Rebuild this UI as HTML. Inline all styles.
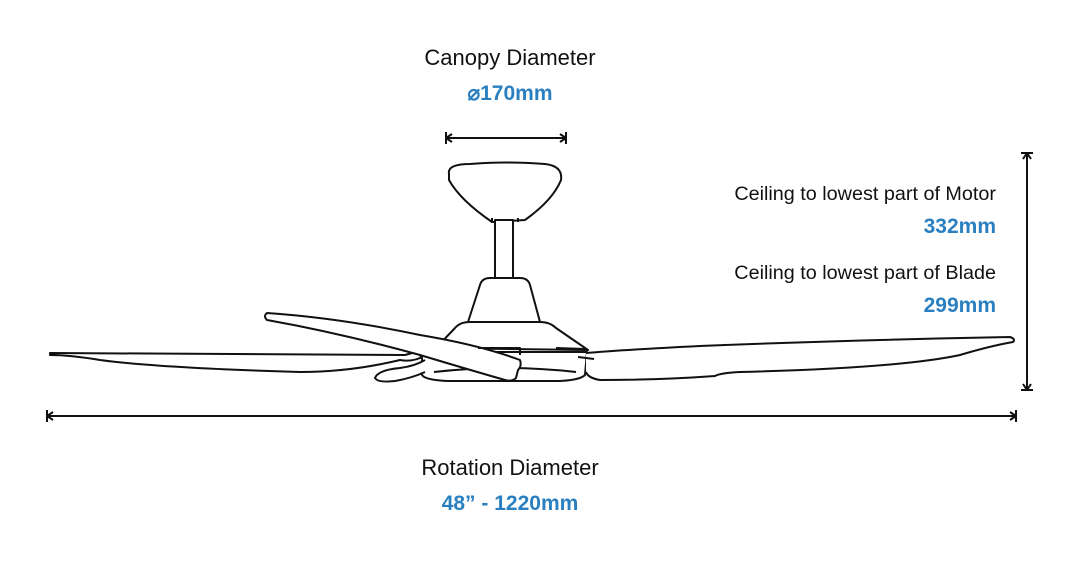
<!DOCTYPE html>
<html><head><style>
body{margin:0;background:#fff;width:1080px;height:562px;overflow:hidden}
svg{display:block}
text{font-family:"Liberation Sans",sans-serif}
</style></head><body>
<svg width="1080" height="562" viewBox="0 0 1080 562" xmlns="http://www.w3.org/2000/svg">
<g fill="none" stroke="#111" stroke-width="2" stroke-linejoin="round">
<line x1="446" y1="138" x2="566" y2="138"/>
<line x1="446" y1="132" x2="446" y2="144"/><line x1="566" y1="132" x2="566" y2="144"/>
<path d="M452 134 L446 138 L452 142 M560 134 L566 138 L560 142"/>
<line x1="1027" y1="153" x2="1027" y2="390"/>
<line x1="1021" y1="153" x2="1033" y2="153"/><line x1="1021" y1="390" x2="1033" y2="390"/>
<path d="M1023 159 L1027 153 L1031 159 M1023 384 L1027 390 L1031 384"/>
<line x1="47" y1="416" x2="1016" y2="416"/>
<line x1="47" y1="410" x2="47" y2="422"/><line x1="1016" y1="410" x2="1016" y2="422"/>
<path d="M53 412 L47 416 L53 420 M1010 412 L1016 416 L1010 420"/>
<path d="M449 174 Q447 164 470 164 Q505 161 545 164 Q563 166 561 180 Q553 200 525 220 L492 222 Q460 200 449 180 Z" fill="#fff"/>
<path d="M492 218 L492 222 M518 218 L518 222"/>
<rect x="495" y="220" width="18" height="58" fill="#fff"/>
<path d="M468 322 L480 285 Q482 278 490 278 L520 278 Q528 278 530 285 L540 322 Z" fill="#fff"/>
<path d="M436 348 L455 328 Q460 322 470 322 L540 322 Q550 322 556 328 L588 350 Z" fill="#fff"/>
<path d="M422 352 L587 352 L585 375 Q580 380 560 381 L448 381 Q425 380 422 375 Z" fill="#fff"/>
<path d="M434 372 Q505 364 576 372"/>
<path d="M50 353 L405 355 Q415 352 424 350 L420 358 Q410 362 400 360 Q350 372 300 372 Q160 368 100 360 Q70 355 50 355 Z" fill="#fff"/>
<path d="M425 360 Q415 366 400 368 Q378 370 375 378 Q378 383 395 381 Q412 378 425 372" fill="#fff"/>
<path d="M586 353 Q620 350 700 346 Q850 340 1010 337 Q1016 339 1013 342 Q990 346 960 355 Q900 368 740 372 Q720 373 715 376 Q660 380 600 380 Q588 378 586 372" fill="#fff"/>
<path d="M578 357 L594 359"/>
<path d="M267 313 Q340 318 420 335 Q480 345 520 360 Q522 366 518 370 L516 378 Q512 382 505 380 Q470 370 420 355 Q340 333 267 320 Q263 316 267 313 Z" fill="#fff"/>
<path d="M478 348 L520 348 L520 355 M556 348 L585 349"/>
</g>
<g text-anchor="middle">
<text x="510" y="65" font-size="22" fill="#111">Canopy Diameter</text>
<text x="510" y="100" font-size="21" font-weight="bold" fill="#2a7fc1">⌀170mm</text>
<text x="510" y="475" font-size="22" fill="#111">Rotation Diameter</text>
<text x="510" y="510" font-size="21" font-weight="bold" fill="#2a7fc1">48” - 1220mm</text>
</g>
<g text-anchor="end">
<text x="996" y="200" font-size="19.8" fill="#111">Ceiling to lowest part of Motor</text>
<text x="996" y="233" font-size="21" font-weight="bold" fill="#2a7fc1">332mm</text>
<text x="996" y="279" font-size="19.8" fill="#111">Ceiling to lowest part of Blade</text>
<text x="996" y="312" font-size="21" font-weight="bold" fill="#2a7fc1">299mm</text>
</g>
</svg>
</body></html>
